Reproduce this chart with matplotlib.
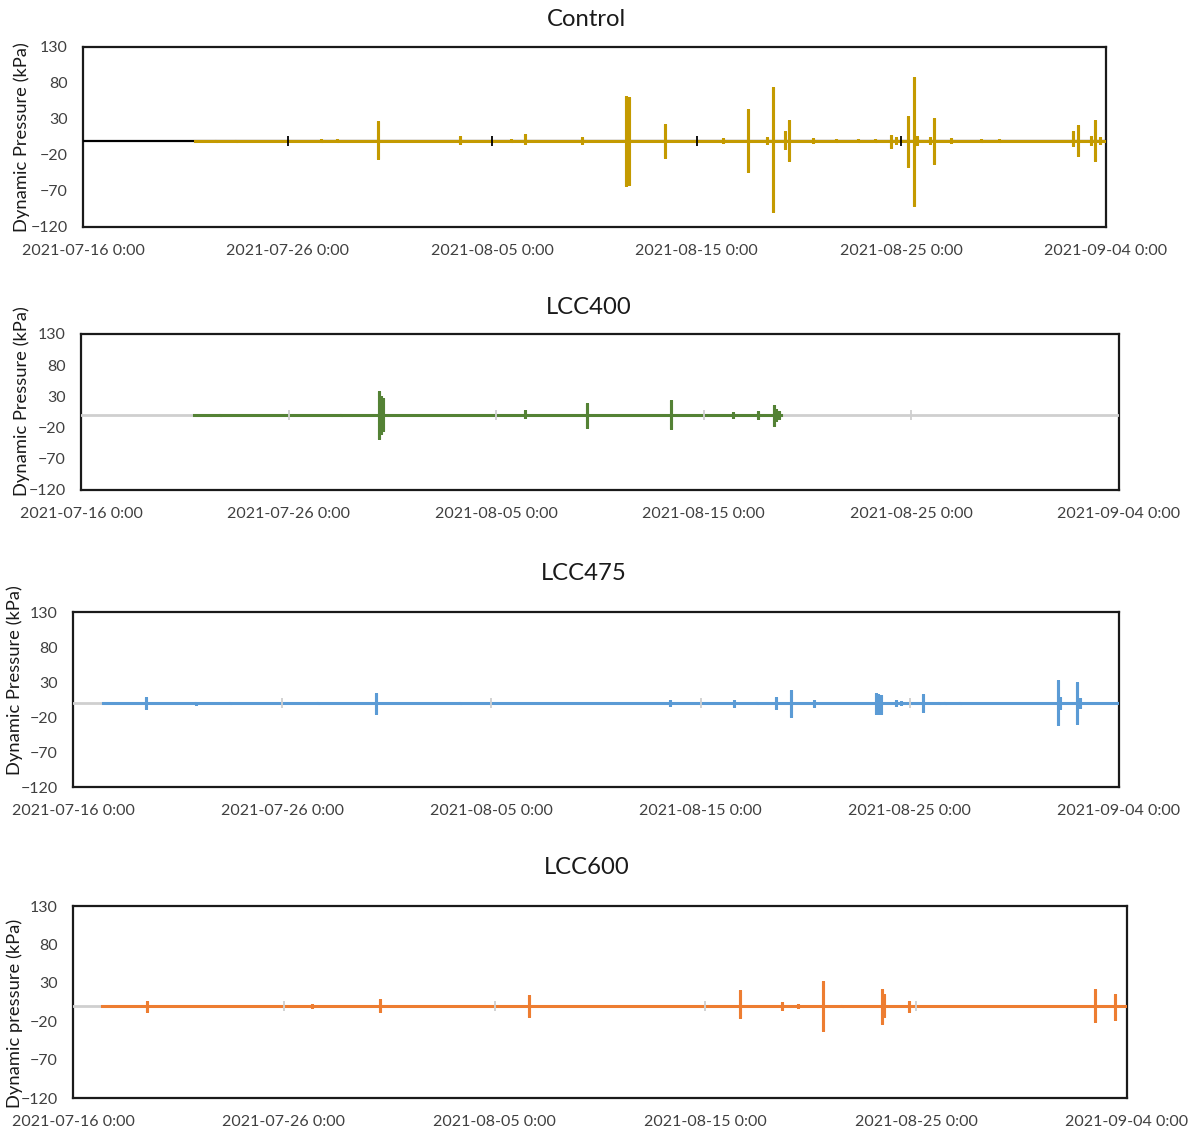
import matplotlib
matplotlib.use("Agg")
import matplotlib.pyplot as plt
import matplotlib.dates as mdates
import numpy as np
import pandas as pd

# x axis: days after 2021-07-16 0:00
origin = pd.Timestamp("2021-07-16")
x_end_days = 50
tick_step = 10

y_ticks = [-120, -70, -20, 30, 80, 130]

# Control
control_start, control_end = 5.47, 50.0
control_days = [6.5, 7.5, 11.65, 12.43, 14.42, 18.45, 20.9, 21.6, 24.4, 26.54,
                26.69, 28.46, 31.3, 32.5, 33.45, 33.7, 34.3, 34.5, 35.7, 36.8,
                37.9, 38.7, 39.5, 39.75, 40.3, 40.6, 40.75, 41.4, 41.6, 42.4,
                43.9, 44.75, 48.4, 48.64, 49.27, 49.45, 49.73]
control_max = [1.5, 1.5, 2, 2, 27, 6, 2, 9, 5, 62,
               61, 23, 3, 44, 5, 74, 14, 29, 4, 2,
               2, 2, 8, 5, 34, 89, 6, 5, 31, 4,
               2, 2, 13, 21, 6, 29, 5]
control_min = [-1.5, -1.5, -2, -2, -25, -5, -2, -5, -5, -63,
               -62, -24, -3, -44, -5, -99, -12, -28, -4, -2,
               -2, -2, -10, -5, -36, -91, -6, -5, -32, -4,
               -2, -2, -8, -22, -6, -29, -5]

# LCC400
lcc400_start, lcc400_end = 5.43, 33.7
lcc400_days = [6.7, 12.5, 14.35, 14.45, 14.53, 21.4, 24.38, 28.43, 31.4, 32.6,
               33.4, 33.5, 33.6]
lcc400_max = [1.5, 1.5, 38, 30, 27, 8, 20, 25, 5, 7, 17, 10, 6]
lcc400_min = [-1.5, -1.5, -38, -30, -25, -4, -20, -22, -5, -7, -18, -10, -6]

# LCC475
lcc475_start, lcc475_end = 1.43, 50.0
lcc475_days = [3.5, 5.9, 7.5, 11.7, 14.5, 18.5, 28.56, 31.6, 32.7, 33.6,
               34.3, 35.4, 38.4, 38.5, 38.6, 39.35, 39.6, 40.65, 41.4, 41.7,
               42.4, 47.1, 47.2, 48.0, 48.15]
lcc475_max = [8, 1, 1.5, 1.5, 14.5, 2, 4, 5, 2, 8,
              19, 5, 14, 13, 12, 4, 3, 13, 2, 2,
              2, 33, 8, 30, 7]
lcc475_min = [-8, -3, -1, -1.5, -15, -2, -4, -5, -2, -9,
              -20, -5, -16, -16, -15, -4, -3, -13, -2, -2,
              -2, -32, -8, -30, -7]

# LCC600
lcc600_start, lcc600_end = 1.36, 50.0
lcc600_days = [3.49, 11.36, 14.55, 21.64, 31.66, 33.65, 34.4, 35.57, 36.5, 38.36,
               38.45, 39.65, 48.49, 49.43]
lcc600_max = [6, 3, 8.5, 14, 20, 5, 3, 32, 1.5, 22, 15, 6.5, 21.5, 16]
lcc600_min = [-8.5, -3, -7.5, -15, -16, -5, -3, -33, -1.5, -24, -15, -8.5, -21.5, -18.5]


def build_series(start, end, days, vmax, vmin):
    # each event drawn as a vertical swing 0 -> max -> min -> 0
    t = [start]
    v = [0.0]
    for d, hi, lo in zip(days, vmax, vmin):
        t += [d, d, d, d]
        v += [0.0, hi, lo, 0.0]
    t.append(end)
    v.append(0.0)
    t = origin + pd.to_timedelta(np.array(t), unit="D")
    return t, np.array(v)


def fmt_date(x, pos=None):
    d = mdates.num2date(x)
    return f"{d:%Y-%m-%d} {d.hour}:{d:%M}"


W, H = 1194, 1136
plt.rcParams['font.family'] = ['Lato', 'DejaVu Sans']
fig = plt.figure(figsize=(W / 100, H / 100), dpi=100)

panels = [
    # title, ylabel, data, color, axis colour, box (L, R, T, B), title pos, ylabel pos
    ("Control", "Dynamic Pressure (kPa)",
     (control_start, control_end, control_days, control_max, control_min),
     "#C49A00", "#000000", (83, 1106, 47, 227), (587, 19), (22, 137)),
    ("LCC400", "Dynamic Pressure (kPa)",
     (lcc400_start, lcc400_end, lcc400_days, lcc400_max, lcc400_min),
     "#548235", "#CFCFCF", (81, 1119, 334, 490), (589, 308), (22, 401)),
    ("LCC475", "Dynamic Pressure (kPa)",
     (lcc475_start, lcc475_end, lcc475_days, lcc475_max, lcc475_min),
     "#5B9BD5", "#CFCFCF", (73, 1119, 612, 787), (584, 573), (15, 680)),
    ("LCC600", "Dynamic pressure (kPa)",
     (lcc600_start, lcc600_end, lcc600_days, lcc600_max, lcc600_min),
     "#ED7D31", "#CFCFCF", (73, 1127, 906, 1098), (587, 868), (15, 1013)),
]

x0 = origin
x1 = origin + pd.Timedelta(days=x_end_days)
ticks = [origin + pd.Timedelta(days=k) for k in range(0, x_end_days + 1, tick_step)]
inner_ticks = ticks[1:-1]

for title, ylabel, data, color, axcol, box, tpos, ypos in panels:
    L, R, T, B = box
    ax = fig.add_axes([L / W, 1 - B / H, (R - L) / W, (B - T) / H])
    t, v = build_series(*data)
    ax.plot(t, v, color=color, lw=2.2, zorder=3, solid_joinstyle='miter')

    # category axis crossing at zero, with crossing tick marks
    ax.plot([x0, x1], [0, 0], color=axcol, lw=1.6 if axcol == "#000000" else 2.0, zorder=2.6)
    ax.plot(inner_ticks, [0] * len(inner_ticks), ls='none', marker='|',
            markersize=7.5, markeredgewidth=1.3, color=axcol, zorder=4)

    ax.set_xlim(x0, x1)
    ax.set_ylim(-120, 130)
    ax.set_yticks(y_ticks)
    ax.set_xticks(ticks)
    ax.xaxis.set_major_formatter(plt.FuncFormatter(fmt_date))
    ax.tick_params(axis='x', length=0, pad=12, labelsize=11.5, labelcolor='#404040')
    ax.tick_params(axis='y', length=0, pad=11, labelsize=11.5, labelcolor='#404040')
    for s in ax.spines.values():
        s.set_linewidth(1.6)
        s.set_color('#1a1a1a')

    fig.text(tpos[0] / W, 1 - tpos[1] / H, title, ha='center', va='center',
             fontsize=17.2, color='#1a1a1a')
    fig.text(ypos[0] / W, 1 - ypos[1] / H, ylabel, ha='center', va='center',
             rotation=90, fontsize=13.2, color='#1a1a1a')

fig.savefig("out.png", dpi=100)
